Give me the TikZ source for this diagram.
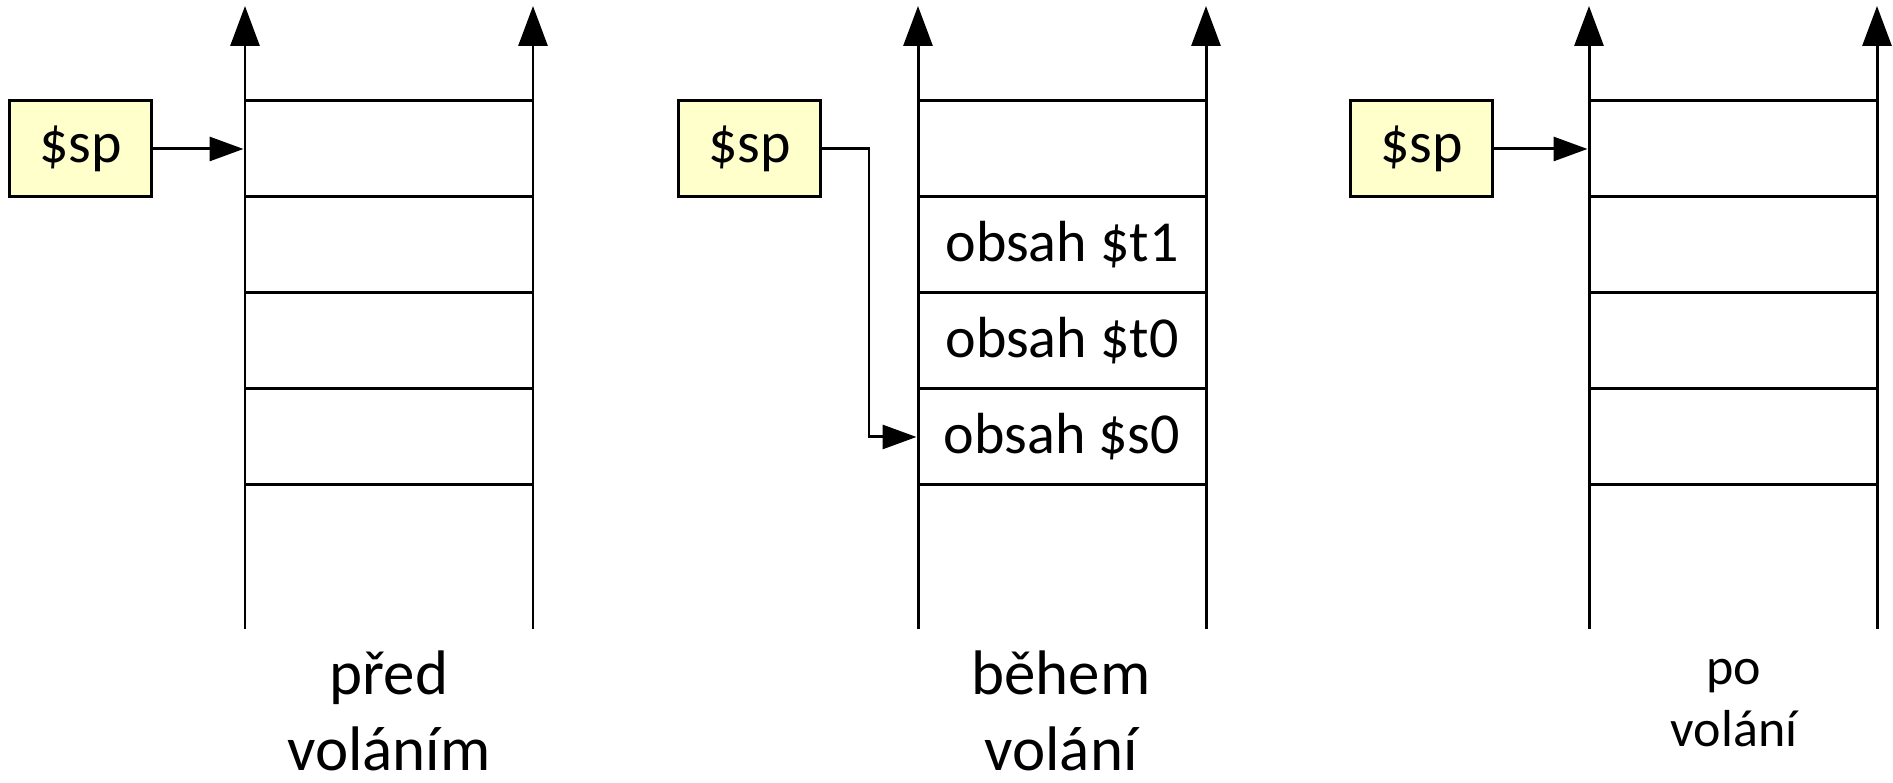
\documentclass[tikz,border=0pt]{standalone}
\usepackage{fontspec}
\setmainfont{Carlito}
\usepackage{tikz}
\usetikzlibrary{positioning,arrows.meta}
\definecolor{regbg}{HTML}{FFFFCC}

\begin{document}
\begin{tikzpicture}[
  line width=0.85pt,
  txt/.style={font=\fontsize{16.5}{19.8}\selectfont},
  cell/.style={draw, minimum width=2.88cm, minimum height=0.96cm, inner sep=0pt, txt},
  reg/.style={draw, fill=regbg, minimum width=1.42cm, minimum height=0.96cm, inner sep=0pt, txt},
  rail/.style={-{Triangle[length=0.4cm, width=0.29cm]}},
  ptr/.style={-{Triangle[length=0.34cm, width=0.24cm]}},
  caption/.style={align=center, inner sep=0pt, font=\fontsize{17.9}{21.4}\selectfont}
]
  \useasboundingbox (0,0) rectangle (18.93,7.83);

  % three stacks: four cells each, two rails going up
  \foreach \px/\nm in {2.45/a, 9.18/b, 15.89/c} {
    \foreach \r/\ry in {1/6.34, 2/5.38, 3/4.42, 4/3.46}
      \node[cell] (\nm\r) at (\px+1.44, \ry) {};
    \coordinate (\nm l) at (\px, 1.54);
    \coordinate (\nm r) at (\px+2.88, 1.54);
    \draw[rail] (\nm l) -- ++(0, 6.23);
    \draw[rail] (\nm r) -- ++(0, 6.23);
  }

  % saved registers during the call
  \node[txt] at (b2) {obsah \$t1};
  \node[txt] at (b3) {obsah \$t0};
  \node[txt] at (b4) {obsah \$s0};

  % stack pointer
  \node[reg] (spa) at (0.805, 6.34) {\$sp};
  \node[reg] (spb) at (7.495, 6.34) {\$sp};
  \node[reg] (spc) at (14.215, 6.34) {\$sp};

  \draw[ptr] (spa) -- (a1);
  \draw[ptr] (spb.east) -- ++(0.47, 0) |- (b4.west);
  \draw[ptr] (spc) -- (c1);

  % captions
  \node[caption] (capa) at (3.89, 0.72) {před\\voláním};
  \node[caption] (capb) at (10.61, 0.72) {během\\volání};
  \node[caption, font=\fontsize{14.8}{17.6}\selectfont] (capc) at (17.34, 0.8) {po\\volání};
\end{tikzpicture}
\end{document}
